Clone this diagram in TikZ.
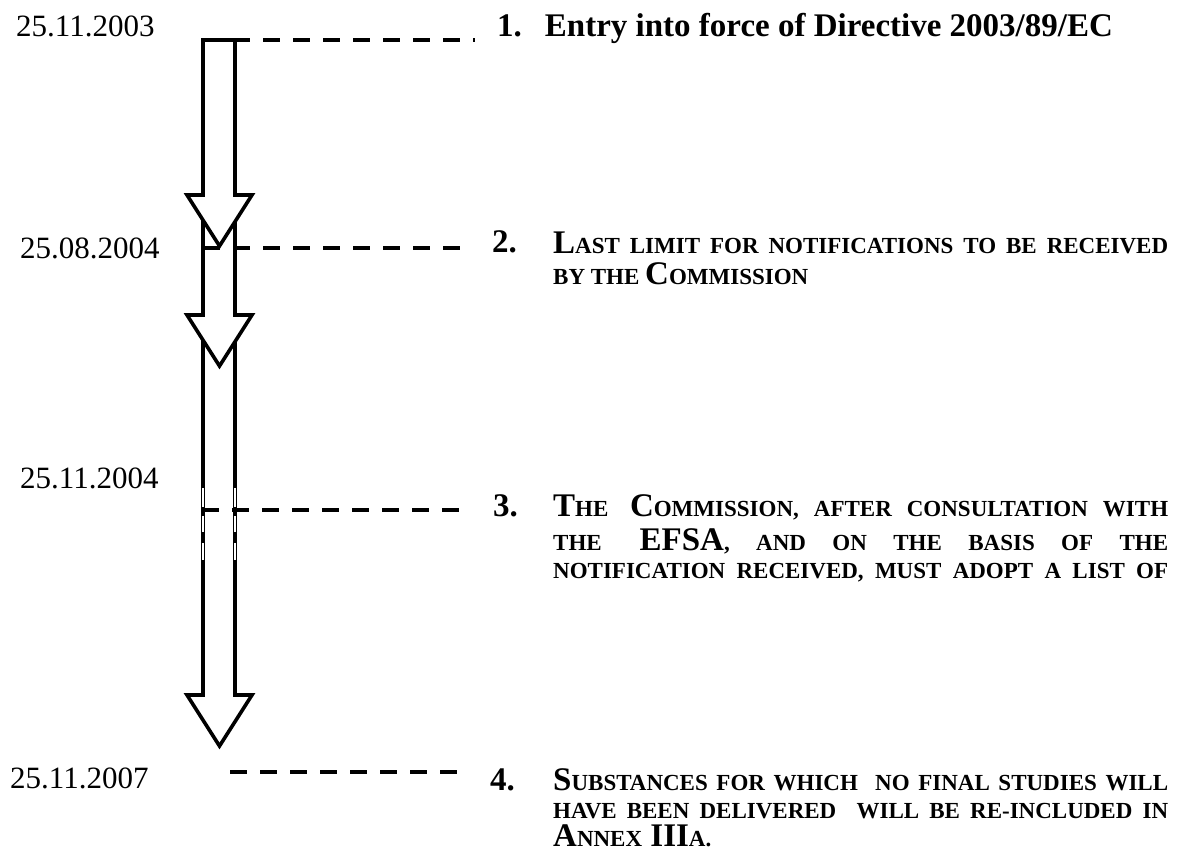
\documentclass[tikz,border=0pt]{standalone}
\usepackage{fontspec}
\setmainfont{Liberation Serif}
\usetikzlibrary{positioning}
\newcommand\smc[1]{{\fontsize{23}{28}\selectfont #1}}
\newcommand\jline[1]{\makebox[615pt][s]{#1}}
\tikzset{
  tlarrow/.style={draw=black, fill=white, line width=3.6pt, line join=miter},
  leader/.style={line width=3.6pt, dash pattern=on 17pt off 13pt},
  gapline/.style={white, line width=2.6pt},
  datelbl/.style={anchor=base west, inner sep=0pt, font=\fontsize{31}{31}\selectfont},
  itemnum/.style={anchor=base west, inner sep=0pt, outer xsep=22pt, font=\bfseries\fontsize{33}{28}\selectfont},
  itemtext/.style={inner sep=0pt, align=left, font=\bfseries\fontsize{33}{28}\selectfont}
}
\begin{document}
\begin{tikzpicture}[x=1pt, y=-1pt]
  \useasboundingbox (0,0) rectangle (1187,861);
  % timeline arrows, lowest first
  \foreach \ytop/\ybase in {335/695, 215/315, 40/195}
    \draw[tlarrow] (203,\ytop) -- (235,\ytop) -- (235,\ybase) -- (252,\ybase)
      -- (219.5,{\ybase+51}) -- (187,\ybase) -- (203,\ybase) -- cycle;
  \foreach \ya/\yb in {488/507, 516/532, 543/560} {
    \draw[gapline] (203,\ya) -- (203,\yb);
    \draw[gapline] (235,\ya) -- (235,\yb);
  }
  % dates
  \node[datelbl] (d1) at (16,37) {25.11.2003};
  \node[datelbl] (d2) at (20,259) {25.08.2004};
  \node[datelbl] (d3) at (20,488) {25.11.2004};
  \node[datelbl] (d4) at (10,788) {25.11.2007};
  % numbered items (multi-line nodes sit on their last line)
  \node[itemnum] (n1) at (475,37) {1.};
  \node[itemnum] (n2) at (470,253) {2.};
  \node[itemnum] (n3) at (471,516) {3.};
  \node[itemnum] (n4) at (468,790) {4.};
  \node[itemtext, base right=1pt of n1] (t1) {Entry into force of Directive 2003/89/EC};
  \node[itemtext, anchor=base west] (t2) at (553,285)
    {\jline{L\smc{AST LIMIT FOR NOTIFICATIONS TO BE RECEIVED}}\\[4pt]
     \smc{BY THE }C\smc{OMMISSION}};
  \node[itemtext, anchor=base west] (t3) at (553,578)
    {\jline{T\smc{HE} C\smc{OMMISSION, AFTER CONSULTATION WITH}}\\[6pt]
     \jline{\smc{THE} EFSA\smc{, AND ON THE BASIS OF THE}}\\
     \jline{\smc{NOTIFICATION RECEIVED, MUST ADOPT A LIST OF}}};
  \node[itemtext, anchor=base west] (t4) at (553,846)
    {\jline{S\smc{UBSTANCES FOR WHICH\ \ NO FINAL STUDIES WILL}}\\
     \jline{\smc{HAVE BEEN DELIVERED\ \ WILL BE RE-INCLUDED IN}}\\
     A\smc{NNEX} III\smc{A.}};
  % leader lines
  \coordinate (s1) at (203,40);
  \coordinate (s2) at (203,248);
  \coordinate (s3) at (202,510);
  \coordinate (s4) at (230,772);
  \draw[leader] (s1) -- (s1 -| n1.west);
  \draw[leader] (s2) -- (s2 -| n2.west);
  \draw[leader] (s3) -- (s3 -| n3.west);
  \draw[leader] (s4) -- (s4 -| n4.west);
\end{tikzpicture}
\end{document}
